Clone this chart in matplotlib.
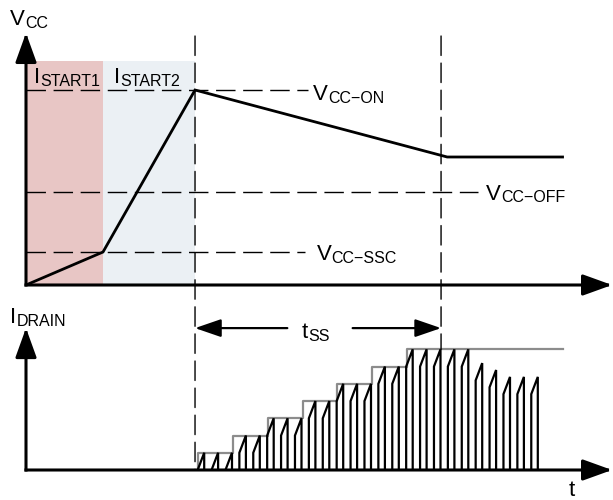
import matplotlib
matplotlib.use('Agg')
import matplotlib.pyplot as plt
from matplotlib.patches import ConnectionPatch

plt.rcParams['font.family'] = ['Liberation Sans', 'DejaVu Sans']

# ---------------- data (time unit = one switching period) ----------------
t_start1_end = 5.54      # end of ISTART1 phase
t_vcc_on = 12.16         # VCC reaches VCC-ON
t_ss_end = 29.86         # end of soft start
t_axis_end = 42.16

vcc_t = [0.0, 5.54, 12.16, 30.3, 38.6]
vcc_v = [0.0, 3.3, 19.5, 12.8, 12.8]
shade_top = 22.4
vcc_axis_top = 25.2
vline_top = 24.9

thr_names = ['CC\u2212ON', 'CC\u2212OFF', 'CC\u2212SSC']
thr_levels = [19.5, 9.3, 3.3]
thr_ends = [20.3, 32.5, 20.1]

step_t = [12.37, 14.9, 17.4, 19.9, 22.4, 24.9, 27.4, 38.6]
step_lvl = [1, 2, 3, 4, 5, 6, 7, 7]

pulse_on = [12.35, 13.35, 14.35, 15.35, 16.35, 17.35, 18.35, 19.35, 20.35,
            21.35, 22.35, 23.35, 24.35, 25.35, 26.35, 27.35, 28.35, 29.35,
            30.35, 31.35, 32.35, 33.35, 34.35, 35.35, 36.35]
pulse_peak = [1, 1, 1, 2, 2, 3, 3, 3, 4, 4, 5, 5, 5, 6, 6, 7, 7, 7, 7, 7,
              6.2, 5.8, 5.4, 5.4, 5.4]
pulse_width = 0.47
pulse_ramp = 1.0
idrain_axis_top = 8.23
tss_level = 8.23

# ---------------- figure ----------------
W, H = 613, 500
fig = plt.figure(figsize=(W / 100, H / 100), dpi=100)
ax1 = fig.add_axes([26 / W, (H - 285) / H, (W - 26) / W, 255 / H])
ax2 = fig.add_axes([26 / W, 30 / H, (W - 26) / W, 150 / H])
ax1.set_xlim(0, 42.23)
ax1.set_ylim(0, 25.5)
ax2.set_xlim(0, 42.23)
ax2.set_ylim(0, 8.7)
for a in (ax1, ax2):
    a.set_axis_off()

DASH = (0, (14, 5.5))
MAIN, SUB = 16, 11.5


def sublabel(ax, x, y, main, sub, transform=None):
    kw = {}
    if transform is not None:
        kw['transform'] = transform
    t = ax.text(x, y, main, fontsize=MAIN, ha='left', va='baseline', **kw)
    ax.annotate(sub, xy=(1, 0), xycoords=t, xytext=(0.2, 1.6),
                textcoords='offset points', fontsize=SUB, ha='left',
                va='baseline')


def axis_arrow(ax, x1, y1):
    ax.annotate('', xy=(x1, y1), xytext=(0, 0),
                arrowprops=dict(arrowstyle='-|>,head_length=1.8,head_width=0.65',
                                mutation_scale=10, lw=2.2, color='black',
                                shrinkA=0, shrinkB=0, capstyle='projecting'),
                annotation_clip=False)


# ---------- top panel ----------
ax1.fill_between([0, t_start1_end], 0, shade_top, color='#e8c6c5', lw=0, zorder=0)
ax1.fill_between([t_start1_end, t_vcc_on], 0, shade_top, color='#ebf0f4', lw=0, zorder=0)

for lvl, end in zip(thr_levels, thr_ends):
    ax1.plot([0, end], [lvl, lvl], color='black', lw=1.0, linestyle=DASH, zorder=1)

ax1.plot(vcc_t, vcc_v, color='black', lw=2.0, zorder=3, solid_joinstyle='miter')

axis_arrow(ax1, 0, vcc_axis_top)
axis_arrow(ax1, t_axis_end, 0)

# vertical dashed markers spanning both panels
for t_mark, bottom in ((t_vcc_on, 0), (t_ss_end, step_lvl[-1])):
    cp = ConnectionPatch(xyA=(t_mark, vline_top), coordsA=ax1.transData,
                         xyB=(t_mark, bottom), coordsB=ax2.transData,
                         color='black', lw=1.0, linestyle=DASH, zorder=2)
    fig.add_artist(cp)

# labels
sublabel(ax1, 10 / W, 1 - 25 / H, 'V', 'CC', transform=fig.transFigure)
sublabel(ax1, 0.6, 20.2, 'I', 'START1')
sublabel(ax1, 6.3, 20.2, 'I', 'START2')
sublabel(ax1, 20.65, 18.5, 'V', thr_names[0])
sublabel(ax1, 33.1, 8.55, 'V', thr_names[1])
sublabel(ax1, 20.9, 2.5, 'V', thr_names[2])

# ---------- bottom panel ----------
sx = [step_t[0]] + step_t
sy = [0] + step_lvl
ax2.step(sx, sy, where='post', color='#8c8c8c', lw=1.6, zorder=1)

for ton, pk in zip(pulse_on, pulse_peak):
    toff = ton + pulse_width
    low = max(pk - pulse_ramp, 0)
    ax2.plot([ton, ton, toff, toff], [0, low, pk, 0], color='black', lw=1.6,
             zorder=2, solid_joinstyle='miter')

axis_arrow(ax2, 0, idrain_axis_top)
axis_arrow(ax2, t_axis_end, 0)

# tSS arrows
ap = dict(arrowstyle='-|>,head_length=1.6,head_width=0.55', mutation_scale=10,
          lw=1.6, color='black', shrinkA=0, shrinkB=0)
ax2.annotate('', xy=(t_vcc_on, tss_level), xytext=(18.8, tss_level), arrowprops=ap,
             annotation_clip=False)
ax2.annotate('', xy=(t_ss_end, tss_level), xytext=(23.5, tss_level), arrowprops=ap,
             annotation_clip=False)
sublabel(ax2, 19.85, 7.65, 't', 'SS')

sublabel(ax2, 10 / W, 1 - 323 / H, 'I', 'DRAIN', transform=fig.transFigure)
ax2.text(569 / W, 4 / H, 't', fontsize=MAIN, ha='left', va='baseline',
         transform=fig.transFigure)

fig.savefig('out.png', dpi=100)
